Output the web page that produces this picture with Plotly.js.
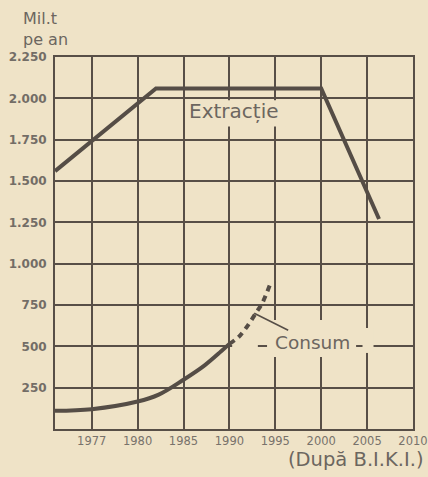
<!DOCTYPE html>
<html>
<head>
<meta charset="utf-8">
<script src="https://cdn.plot.ly/plotly-3.0.1.min.js"></script>
<style>
  html, body { margin: 0; padding: 0; background: #efe3c7; }
  #chart { width: 428px; height: 477px; }
</style>
</head>
<body>
<div id="chart"></div>
<script>
// ---- data ----
const tickYears = [1977, 1980, 1985, 1990, 1995, 2000, 2005, 2010];
const tickLabels = ['1977', '1980', '1985', '1990', '1995', '2000', '2005', '2010'];
const yTickVals = [250, 500, 750, 1000, 1250, 1500, 1750, 2000, 2250];
const yTickText = ['250', '500', '750', '1.000', '1.250', '1.500', '1.750', '2.000', '2.250'];

const extractionYears = [1974.6, 1982, 2000, 2006.3];
const extractionValues = [1560, 2060, 2060, 1270];

const consumYears = [1974.6, 1977, 1980, 1982.3, 1985, 1987.3, 1989.1, 1990];
const consumValues = [110, 120, 166, 208, 298, 385, 470, 515];

const consumForecastYears = [1990, 1991, 1992, 1992.8, 1993.6, 1994.4];
const consumForecastValues = [515, 556, 625, 694, 763, 870];

const startYear = 1974.6;
const yMax = 2250;

// the grid of the original is evenly spaced between labelled years
function yearToPos(y) {
  if (y <= tickYears[0]) return 1 + (y - tickYears[0]) / (tickYears[1] - tickYears[0]);
  for (let i = 0; i < tickYears.length - 1; i++) {
    if (y <= tickYears[i + 1]) return i + 1 + (y - tickYears[i]) / (tickYears[i + 1] - tickYears[i]);
  }
  const n = tickYears.length;
  return n + (y - tickYears[n - 1]) / (tickYears[n - 1] - tickYears[n - 2]);
}
const pos = arr => arr.map(yearToPos);

const BG = '#efe3c7';
const INK = '#554d46';
const GRID = '#584f47';
const TXT = '#6c665f';
const FONT = 'DejaVu Sans';

const traces = [
  {
    x: pos(extractionYears), y: extractionValues, mode: 'lines', type: 'scatter',
    line: { color: INK, width: 4 }, hoverinfo: 'skip', showlegend: false
  },
  {
    x: pos(consumYears), y: consumValues, mode: 'lines', type: 'scatter',
    line: { color: INK, width: 4, shape: 'spline', smoothing: 1 }, hoverinfo: 'skip', showlegend: false
  },
  {
    x: pos(consumForecastYears), y: consumForecastValues, mode: 'lines', type: 'scatter',
    line: { color: INK, width: 4, dash: '6px,5px', shape: 'spline', smoothing: 0.6 }, hoverinfo: 'skip', showlegend: false
  }
];

const gapRect = (y0yr, y1yr, v0, v1) => ({
  type: 'rect', layer: 'between', xref: 'x', yref: 'y',
  x0: yearToPos(y0yr), x1: yearToPos(y1yr), y0: v0, y1: v1,
  fillcolor: BG, line: { width: 0 }
});

const layout = {
  width: 428, height: 477,
  margin: { l: 55, r: 15, t: 57, b: 48 },
  paper_bgcolor: BG, plot_bgcolor: BG,
  font: { family: FONT, color: TXT },
  xaxis: {
    range: [yearToPos(startYear), tickYears.length],
    tickmode: 'array', tickvals: pos(tickYears), ticktext: tickLabels,
    showgrid: true, gridcolor: GRID, gridwidth: 2,
    showline: true, mirror: true, linecolor: GRID, linewidth: 2,
    zeroline: false, ticks: '',
    tickfont: { family: FONT, size: 11.5, color: '#78726b' }
  },
  yaxis: {
    range: [0, yMax],
    tickmode: 'array', tickvals: yTickVals, ticktext: yTickText,
    showgrid: true, gridcolor: GRID, gridwidth: 2,
    showline: true, mirror: true, linecolor: GRID, linewidth: 2,
    zeroline: false, ticks: '', ticklabelstandoff: 4,
    tickfont: { family: FONT, size: 12, color: '#736d66', weight: 'bold' }
  },
  shapes: [
    gapRect(1985.4, 1996.1, 1830, 1988),
    gapRect(1990.3, 1993.1, 470, 530),
    gapRect(1994.1, 2003.8, 436, 660),
    gapRect(2004.5, 2005.7, 460, 611)
  ],
  annotations: [
    { xref: 'x', yref: 'y', x: yearToPos(1990.5), y: 1925, text: 'Extracție', showarrow: false,
      font: { family: FONT, size: 20, color: TXT } },
    { xref: 'x', yref: 'y', x: yearToPos(1992.7), y: 700, text: 'Consum', showarrow: true,
      arrowhead: 0, arrowwidth: 1.5, arrowcolor: INK, ax: 58, ay: 29, standoff: 0,
      font: { family: FONT, size: 18.5, color: TXT } },
    { xref: 'paper', yref: 'paper', x: -0.092, y: 1.104, xanchor: 'left', yanchor: 'middle',
      text: 'Mil.t', showarrow: false, borderpad: 0, font: { family: FONT, size: 16, color: TXT } },
    { xref: 'paper', yref: 'paper', x: -0.092, y: 1.048, xanchor: 'left', yanchor: 'middle',
      text: 'pe an', showarrow: false, borderpad: 0, font: { family: FONT, size: 16, color: TXT } },
    { xref: 'paper', yref: 'paper', x: 1.036, y: -0.083, xanchor: 'right', yanchor: 'middle',
      text: '(După B.I.K.I.)', showarrow: false, font: { family: FONT, size: 19.5, color: TXT } }
  ]
};

Plotly.newPlot('chart', traces, layout, { staticPlot: true, displayModeBar: false });
</script>
</body>
</html>
